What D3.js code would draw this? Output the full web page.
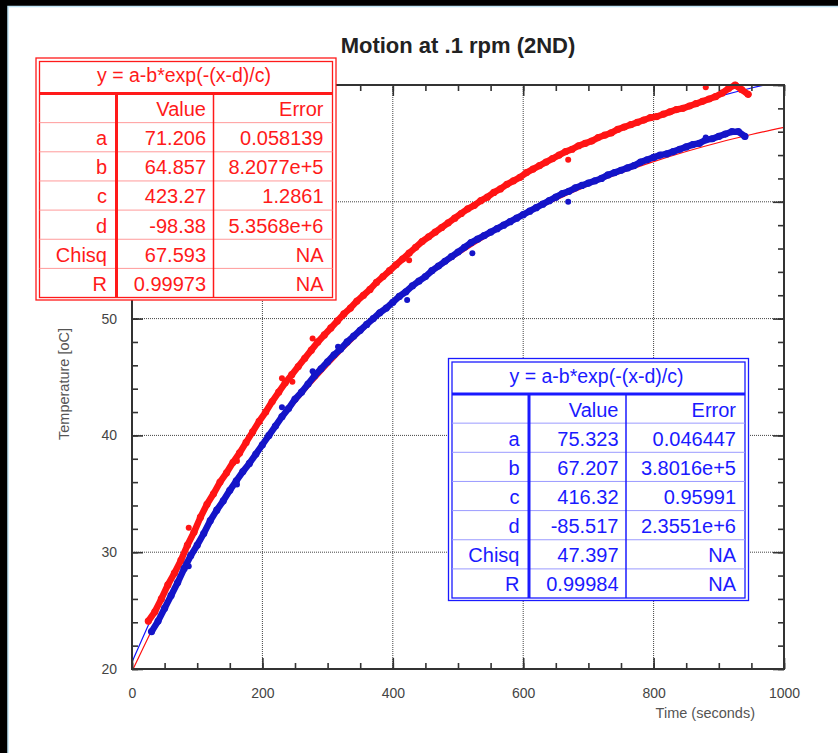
<!DOCTYPE html>
<html>
<head>
<meta charset="utf-8">
<script src="https://cdn.jsdelivr.net/npm/d3@7"></script>
<style>
  body { margin: 0; background: #000; }
  svg { display: block; font-family: "Liberation Sans", Arial, sans-serif; }
</style>
</head>
<body>
<script>
let redTime = [25, 35, 45, 55, 65, 75, 85, 95, 105, 115, 125, 135, 145, 155, 165, 175, 185, 195, 205, 215,
  225, 235, 245, 255, 265, 275, 285, 295, 305, 315, 325, 335, 345, 355, 365, 375, 385, 395, 405, 415,
  425, 435, 445, 455, 465, 475, 485, 495, 505, 515, 525, 535, 545, 555, 565, 575, 585, 595, 605, 615,
  625, 635, 645, 655, 665, 675, 685, 695, 705, 715, 725, 735, 745, 755, 765, 775, 785, 795, 805, 815,
  825, 835, 845, 855, 865, 875, 885, 895, 905, 915, 925, 935, 945];
let redTemp = [24.1, 24.9, 26.0, 27.2, 28.2, 29.3, 30.6, 31.7, 33.0, 34.1, 35.0, 36.0, 36.8, 37.7, 38.5, 39.4, 40.3, 41.2, 42.0, 42.9,
  43.7, 44.5, 45.2, 45.9, 46.6, 47.3, 48.0, 48.6, 49.2, 49.8, 50.4, 50.9, 51.5, 52.0, 52.5, 53.1, 53.6, 54.1, 54.6, 55.1,
  55.6, 56.1, 56.6, 57.0, 57.4, 57.8, 58.2, 58.6, 59.0, 59.4, 59.7, 60.1, 60.4, 60.8, 61.1, 61.5, 61.8, 62.1, 62.5, 62.8,
  63.1, 63.4, 63.7, 64.0, 64.3, 64.5, 64.8, 65.0, 65.2, 65.5, 65.7, 65.9, 66.2, 66.4, 66.6, 66.8, 67.0, 67.2, 67.3, 67.5,
  67.7, 67.9, 68.0, 68.2, 68.4, 68.6, 68.8, 69.0, 69.3, 69.7, 70.0, 69.6, 69.2];
let redOutTime = [87, 161, 230, 246, 277, 425, 669, 880];
let redOutTemp = [32.1, 37.8, 44.9, 44.6, 48.3, 55.0, 63.6, 69.8];

let blueTime = [30, 40, 50, 60, 70, 80, 90, 100, 110, 120, 130, 140, 150, 160, 170, 180, 190, 200, 210, 220,
  230, 240, 250, 260, 270, 280, 290, 300, 310, 320, 330, 340, 350, 360, 370, 380, 390, 400, 410, 420,
  430, 440, 450, 460, 470, 480, 490, 500, 510, 520, 530, 540, 550, 560, 570, 580, 590, 600, 610, 620,
  630, 640, 650, 660, 670, 680, 690, 700, 710, 720, 730, 740, 750, 760, 770, 780, 790, 800, 810, 820,
  830, 840, 850, 860, 870, 880, 890, 900, 910, 920, 930, 940];
let blueTemp = [23.2, 24.1, 25.2, 26.3, 27.4, 28.6, 29.7, 30.6, 31.6, 32.7, 33.6, 34.4, 35.3, 36.1, 36.9, 37.6, 38.4, 39.2, 40.0, 40.8,
  41.6, 42.3, 43.1, 43.7, 44.4, 45.1, 45.7, 46.3, 46.9, 47.4, 48.0, 48.5, 49.0, 49.5, 50.0, 50.5, 50.9, 51.4, 51.9, 52.3,
  52.8, 53.2, 53.6, 54.1, 54.5, 54.9, 55.3, 55.7, 56.1, 56.5, 56.8, 57.1, 57.4, 57.7, 58.0, 58.3, 58.6, 58.9, 59.2, 59.5,
  59.8, 60.1, 60.4, 60.7, 60.9, 61.2, 61.4, 61.6, 61.8, 62.0, 62.3, 62.5, 62.7, 62.9, 63.1, 63.4, 63.6, 63.8, 64.0, 64.1,
  64.3, 64.5, 64.7, 64.9, 65.0, 65.3, 65.4, 65.6, 65.8, 66.0, 66.0, 65.6];
let blueOutTime = [87, 161, 230, 277, 316, 422, 522, 669, 880];
let blueOutTemp = [28.8, 35.8, 42.4, 45.5, 47.6, 51.6, 55.6, 60.0, 65.5];

// Fitted curves as drawn (thin lines)
let fitTime = [0, 50, 100, 150, 200, 250, 300, 350, 400, 450, 500, 550, 600, 650, 700, 750, 800, 850, 900, 950, 1000];
let redFit = [19.80, 25.53, 30.62, 35.14, 39.16, 42.73, 45.90, 48.72, 51.23, 53.45, 55.43, 57.19, 58.75, 60.14, 61.37, 62.47, 63.44, 64.31, 65.08, 65.76, 66.37];
let blueFit = [20.59, 26.79, 32.28, 37.15, 41.47, 45.30, 48.70, 51.71, 54.38, 56.75, 58.86, 60.72, 62.37, 63.84, 65.14, 66.29, 67.31, 68.22, 69.02, 69.74, 70.37];

// Fit tables
let fitFormula = "y = a-b*exp(-(x-d)/c)";
let rowNames = ["a", "b", "c", "d", "Chisq", "R"];
let redValues = ["71.206", "64.857", "423.27", "-98.38", "67.593", "0.99973"];
let redErrors = ["0.058139", "8.2077e+5", "1.2861", "5.3568e+6", "NA", "NA"];
let blueValues = ["75.323", "67.207", "416.32", "-85.517", "47.397", "0.99984"];
let blueErrors = ["0.046447", "3.8016e+5", "0.95991", "2.3551e+6", "NA", "NA"];

let xMajor = [0, 200, 400, 600, 800, 1000];
let yMajor = [20, 30, 40, 50, 60, 70];

let width = 838;
let height = 753;
let plot = { left: 132, right: 784, top: 85, bottom: 669 };

let svg = d3.select("body").append("svg").attr("width", width).attr("height", height);

// page background with thin light-blue edge
svg.append("rect").attr("x", 0).attr("y", 0).attr("width", width).attr("height", height).attr("fill", "#000");
svg.append("rect").attr("x", 8).attr("y", 6.5).attr("width", width).attr("height", height)
  .attr("fill", "#fff").attr("stroke", "#bfe3f4").attr("stroke-width", 1.5);

let x = d3.scaleLinear().domain([0, 1000]).range([plot.left, plot.right]);
let y = d3.scaleLinear().domain([20, 70]).range([plot.bottom, plot.top]);

// dotted grid
svg.append("g").selectAll("line").data(xMajor.slice(1, -1)).join("line")
  .attr("x1", (d) => x(d)).attr("x2", (d) => x(d))
  .attr("y1", plot.top).attr("y2", plot.bottom)
  .attr("stroke", "#444").attr("stroke-width", 1).attr("stroke-dasharray", "1,1");
svg.append("g").selectAll("line").data(yMajor.slice(1, -1)).join("line")
  .attr("x1", plot.left).attr("x2", plot.right)
  .attr("y1", (d) => y(d)).attr("y2", (d) => y(d))
  .attr("stroke", "#444").attr("stroke-width", 1).attr("stroke-dasharray", "1,1");

svg.append("clipPath").attr("id", "clip").append("rect")
  .attr("x", plot.left).attr("y", plot.top)
  .attr("width", plot.right - plot.left).attr("height", plot.bottom - plot.top);

// fit lines
let fitLine = d3.line().x((d, i) => x(fitTime[i])).y((d) => y(d)).curve(d3.curveMonotoneX);
svg.append("path").datum(redFit).attr("d", fitLine).attr("clip-path", "url(#clip)")
  .attr("fill", "none").attr("stroke", "#ff1010").attr("stroke-width", 1.2);
svg.append("path").datum(blueFit).attr("d", fitLine).attr("clip-path", "url(#clip)")
  .attr("fill", "none").attr("stroke", "#1010ff").attr("stroke-width", 1.2);

// data bands: dense points drawn as thick trace + dots
function drawSeries(times, temps, outT, outY, color) {
  let pts = times.map((t, i) => [x(t), y(temps[i])]);
  svg.append("path").datum(pts).attr("d", d3.line())
    .attr("fill", "none").attr("stroke", color).attr("stroke-width", 6.5)
    .attr("stroke-linejoin", "round").attr("stroke-linecap", "round");
  svg.append("g").selectAll("circle").data(pts).join("circle")
    .attr("cx", (d) => d[0]).attr("cy", (d) => d[1]).attr("r", 3.6).attr("fill", color);
  svg.append("g").selectAll("circle").data(outT).join("circle")
    .attr("cx", (d) => x(d)).attr("cy", (d, i) => y(outY[i])).attr("r", 3).attr("fill", color);
}
drawSeries(redTime, redTemp, redOutTime, redOutTemp, "#ff1414");
drawSeries(blueTime, blueTemp, blueOutTime, blueOutTemp, "#1414c8");

// axes with inward ticks on all four sides
function styleAxis(g) {
  g.select(".domain").remove();
  g.selectAll(".tick line").attr("stroke", "#333").attr("stroke-width", 1.6);
  g.selectAll(".tick text").attr("fill", "#444").style("font-size", "14px")
    .style("font-family", "'Liberation Sans', Arial, sans-serif");
}
let xMinor = d3.range(0, 1001, 50);
let yMinor = d3.range(20, 71, 2);

svg.append("g").attr("transform", `translate(0,${plot.bottom})`)
  .call(d3.axisBottom(x).tickValues(xMinor).tickSizeInner(-6).tickSizeOuter(0).tickFormat("")).call(styleAxis);
svg.append("g").attr("transform", `translate(0,${plot.bottom})`)
  .call(d3.axisBottom(x).tickValues(xMajor).tickSizeInner(-11).tickSizeOuter(0).tickPadding(19)
    .tickFormat(d3.format("d"))).call(styleAxis);
svg.append("g").attr("transform", `translate(0,${plot.top})`)
  .call(d3.axisTop(x).tickValues(xMinor).tickSizeInner(-6).tickSizeOuter(0).tickFormat("")).call(styleAxis);
svg.append("g").attr("transform", `translate(0,${plot.top})`)
  .call(d3.axisTop(x).tickValues(xMajor).tickSizeInner(-11).tickSizeOuter(0).tickFormat("")).call(styleAxis);
svg.append("g").attr("transform", `translate(${plot.left},0)`)
  .call(d3.axisLeft(y).tickValues(yMinor).tickSizeInner(-6).tickSizeOuter(0).tickFormat("")).call(styleAxis);
// 60 and 70 labels sit under the fit table in the original, so they are left blank
svg.append("g").attr("transform", `translate(${plot.left},0)`)
  .call(d3.axisLeft(y).tickValues(yMajor).tickSizeInner(-11).tickSizeOuter(0).tickPadding(15)
    .tickFormat((d) => (d > 50 ? "" : d))).call(styleAxis);
svg.append("g").attr("transform", `translate(${plot.right},0)`)
  .call(d3.axisRight(y).tickValues(yMinor).tickSizeInner(-6).tickSizeOuter(0).tickFormat("")).call(styleAxis);
svg.append("g").attr("transform", `translate(${plot.right},0)`)
  .call(d3.axisRight(y).tickValues(yMajor).tickSizeInner(-11).tickSizeOuter(0).tickFormat("")).call(styleAxis);

// frame
svg.append("rect").attr("x", plot.left).attr("y", plot.top)
  .attr("width", plot.right - plot.left).attr("height", plot.bottom - plot.top)
  .attr("fill", "none").attr("stroke", "#333").attr("stroke-width", 2);

// title and axis labels
svg.append("text").attr("x", (plot.left + plot.right) / 2).attr("y", 53)
  .text("Motion at .1 rpm (2ND)").attr("text-anchor", "middle")
  .style("font-size", "22px").style("font-weight", "bold").attr("fill", "#222");
svg.append("text").attr("x", 755).attr("y", 718).text("Time (seconds)")
  .attr("text-anchor", "end").style("font-size", "14.5px").attr("fill", "#555");
svg.append("text").attr("transform", "rotate(-90)").attr("x", -384).attr("y", 69)
  .text("Temperature [oC]").attr("text-anchor", "middle").style("font-size", "14.5px").attr("fill", "#555");

// fit result tables
function drawTable(x0, y0, color, light, values, errors) {
  let g = svg.append("g").attr("transform", `translate(${x0},${y0})`);
  let cols = [3.5, 80.5, 177.5, 296.5];
  let headBottom = 35.5;
  let rowH = 29.15;
  g.append("rect").attr("width", 300).attr("height", 242)
    .attr("fill", "#fff").attr("stroke", color).attr("stroke-width", 1.3);
  g.append("rect").attr("x", 3.5).attr("y", 3.5).attr("width", 293).attr("height", 236)
    .attr("fill", "none").attr("stroke", color).attr("stroke-width", 1.3);

  let rows = [["", "Value", "Error"]].concat(rowNames.map((n, i) => [n, values[i], errors[i]]));

  g.selectAll(".sep").data(d3.range(1, rows.length)).join("line")
    .attr("x1", cols[0]).attr("x2", cols[3])
    .attr("y1", (d) => headBottom + d * rowH).attr("y2", (d) => headBottom + d * rowH)
    .attr("stroke", light).attr("stroke-width", 1);
  g.append("line").attr("x1", cols[0]).attr("x2", cols[3]).attr("y1", headBottom).attr("y2", headBottom)
    .attr("stroke", color).attr("stroke-width", 3);
  g.append("line").attr("x1", cols[1]).attr("x2", cols[1]).attr("y1", headBottom).attr("y2", 239.5)
    .attr("stroke", color).attr("stroke-width", 3);
  g.append("line").attr("x1", cols[2]).attr("x2", cols[2]).attr("y1", headBottom).attr("y2", 239.5)
    .attr("stroke", color).attr("stroke-width", 1.5);

  g.append("text").attr("x", 148).attr("y", 24).text(fitFormula)
    .attr("text-anchor", "middle").attr("fill", color).style("font-size", "19.5px");

  let rightEdges = [cols[1] - 9.5, cols[2] - 7.5, cols[3] - 9];
  rows.forEach((r, i) => {
    r.forEach((cell, j) => {
      if (!cell) return;
      g.append("text").attr("x", rightEdges[j]).attr("y", headBottom + i * rowH + 22.5)
        .text(cell).attr("text-anchor", "end").attr("fill", color).style("font-size", "20px");
    });
  });
}
drawTable(36, 58, "#ff1a1a", "#ff9a9a", redValues, redErrors);
drawTable(448.5, 358.5, "#1a1aff", "#9a9aff", blueValues, blueErrors);
</script>
</body>
</html>
